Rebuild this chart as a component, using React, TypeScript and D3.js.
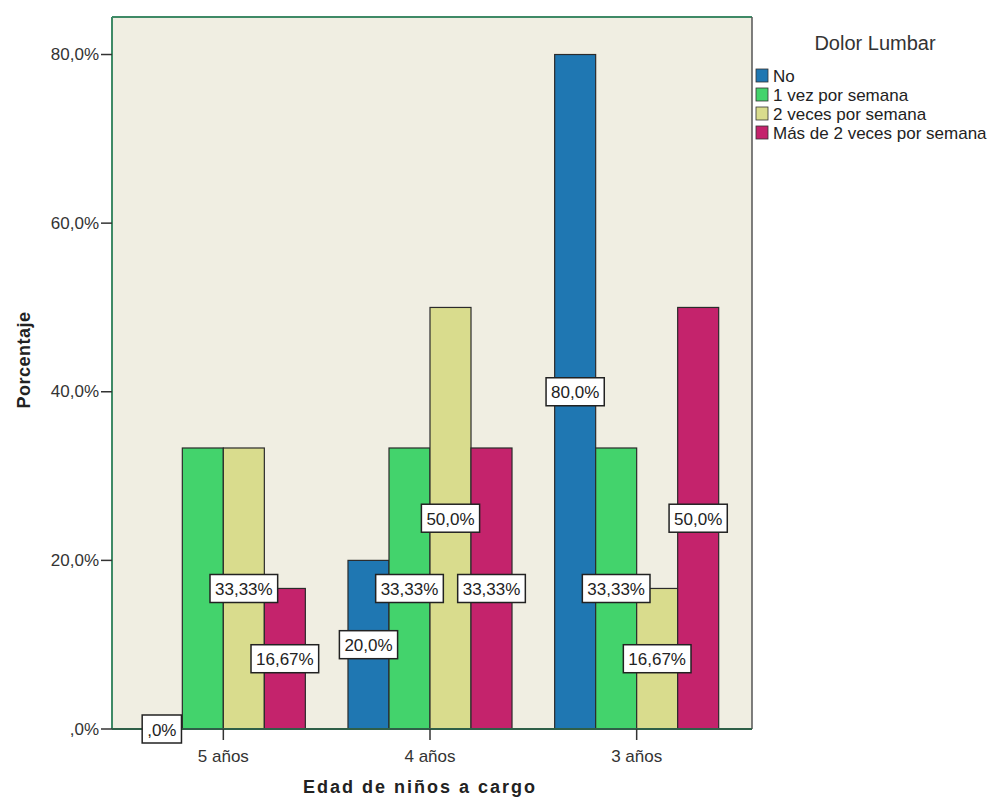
import React from "react";
import * as d3 from "d3";

const categories = ["5 años", "4 años", "3 años"];
const seriesNames = ["No", "1 vez por semana", "2 veces por semana", "Más de 2 veces por semana"];
const valuesNo = [0, 20, 80];
const values1vez = [33.33, 33.33, 33.33];
const values2veces = [33.33, 50, 16.67];
const valuesMas = [16.67, 33.33, 50];
const seriesValues = [valuesNo, values1vez, values2veces, valuesMas];
const yTickValues = [0, 20, 40, 60, 80];
const yTickLabels = [",0%", "20,0%", "40,0%", "60,0%", "80,0%"];
const colors = ["#1f77b2", "#43d36c", "#d9dc8d", "#c4236c"];

const FONT = "'Liberation Sans', Arial, Helvetica, sans-serif";

function fmt(v: number): string {
  if (v === 0) return ",0%";
  const s = Number.isInteger(v) ? v.toFixed(1) : v.toFixed(2);
  return s.replace(".", ",") + "%";
}

let ctx: CanvasRenderingContext2D | null = null;
function measure(text: string, size: number): number {
  if (!ctx) {
    const c = document.createElement("canvas");
    ctx = c.getContext("2d");
  }
  if (!ctx) return text.length * size * 0.55;
  ctx.font = `${size}px 'Liberation Sans', Arial, sans-serif`;
  return ctx.measureText(text).width;
}

export default function App() {
  const W = 998;
  const H = 803;
  const plotLeft = 112;
  const plotRight = 752;
  const plotTop = 17;
  const plotBottom = 729;

  const x0 = d3.scaleBand<string>().domain(categories).range([120, 740]).paddingInner(0).paddingOuter(0);
  const x1 = d3
    .scaleBand<string>()
    .domain(seriesNames)
    .range([0, x0.bandwidth()])
    .paddingInner(0)
    .paddingOuter(0.52);
  const y = d3.scaleLinear().domain([0, 84.45]).range([plotBottom, plotTop]);

  const labelSize = 17;
  type Box = { x: number; y: number; w: number; h: number; text: string };
  const placed: Box[] = [];
  categories.forEach((cat, ci) => {
    for (let si = seriesNames.length - 1; si >= 0; si--) {
      const v = seriesValues[si][ci];
      const text = fmt(v);
      const cx = (x0(cat) as number) + (x1(seriesNames[si]) as number) + x1.bandwidth() / 2;
      const cy = y(v / 2);
      const w = measure(text, labelSize) + 10;
      const h = 28;
      const b = { x: cx - w / 2, y: cy - h / 2, w, h, text };
      const overlaps = placed.some(
        (p) => b.x < p.x + p.w && b.x + b.w > p.x && b.y < p.y + p.h && b.y + b.h > p.y
      );
      if (!overlaps) placed.push(b);
    }
  });

  const legendX = 756;
  const legendBaselines = [82, 101, 120, 139];

  return (
    <svg
      width={W}
      height={H}
      style={{ position: "absolute", left: 0, top: 0, background: "#ffffff" }}
      fontFamily={FONT}
    >
      <rect x={0} y={0} width={W} height={H} fill="#ffffff" />
      {/* plot background */}
      <rect x={plotLeft} y={plotTop} width={plotRight - plotLeft} height={plotBottom - plotTop} fill="#f0eee2" />

      {/* bars */}
      {categories.map((cat, ci) => (
        <g key={cat} transform={`translate(${x0(cat)},0)`}>
          {seriesNames.map((s, si) => {
            const v = seriesValues[si][ci];
            if (v <= 0) return null;
            return (
              <rect
                key={s}
                x={x1(s) as number}
                y={y(v)}
                width={x1.bandwidth()}
                height={y(0) - y(v)}
                fill={colors[si]}
                stroke="#2b2b2b"
                strokeWidth={1.2}
              />
            );
          })}
        </g>
      ))}

      {/* frame */}
      <line x1={plotLeft} y1={plotTop} x2={plotRight} y2={plotTop} stroke="#3f8a66" strokeWidth={2} />
      <line x1={plotLeft} y1={plotTop} x2={plotLeft} y2={plotBottom} stroke="#3f8a66" strokeWidth={2} />
      <line x1={plotRight} y1={plotTop} x2={plotRight} y2={plotBottom} stroke="#555" strokeWidth={1.5} />
      <line x1={plotLeft} y1={plotBottom} x2={plotRight} y2={plotBottom} stroke="#2f5f48" strokeWidth={2} />

      {/* y axis ticks */}
      {yTickValues.map((t, i) => (
        <g key={t}>
          <line x1={plotLeft - 11} x2={plotLeft} y1={y(t)} y2={y(t)} stroke="#333" strokeWidth={1.5} />
          <text
            x={plotLeft - 13}
            y={y(t)}
            textAnchor="end"
            dominantBaseline="central"
            fontSize={17}
            fill="#333"
          >
            {yTickLabels[i]}
          </text>
        </g>
      ))}

      {/* x axis ticks */}
      {categories.map((cat) => {
        const cx = (x0(cat) as number) + x0.bandwidth() / 2;
        return (
          <g key={cat}>
            <line x1={cx} x2={cx} y1={plotBottom} y2={plotBottom + 11} stroke="#333" strokeWidth={1.5} />
            <text x={cx} y={762} textAnchor="middle" fontSize={17} fill="#333">
              {cat}
            </text>
          </g>
        );
      })}

      {/* value labels */}
      {placed.map((b, i) => (
        <g key={i}>
          <rect x={b.x} y={b.y} width={b.w} height={b.h} fill="#ffffff" stroke="#222" strokeWidth={1.5} />
          <text
            x={b.x + b.w / 2}
            y={b.y + b.h / 2 + 1}
            textAnchor="middle"
            dominantBaseline="central"
            fontSize={labelSize}
            fill="#222"
          >
            {b.text}
          </text>
        </g>
      ))}

      {/* axis titles */}
      <text
        transform="translate(30,360) rotate(-90)"
        textAnchor="middle"
        fontSize={18}
        fontWeight="bold"
        letterSpacing={0.5}
        fill="#222"
      >
        Porcentaje
      </text>
      <text x={420} y={793} textAnchor="middle" fontSize={18} fontWeight="bold" letterSpacing={2} fill="#222">
        Edad de niños a cargo
      </text>

      {/* legend */}
      <text x={875} y={50} textAnchor="middle" fontSize={20} fill="#333">
        Dolor Lumbar
      </text>
      {seriesNames.map((s, i) => (
        <g key={s}>
          <rect
            x={legendX}
            y={legendBaselines[i] - 13}
            width={12}
            height={13}
            fill={colors[i]}
            stroke="#333"
            strokeWidth={0.8}
          />
          <text x={legendX + 17} y={legendBaselines[i]} fontSize={17} fill="#222">
            {s}
          </text>
        </g>
      ))}
    </svg>
  );
}
